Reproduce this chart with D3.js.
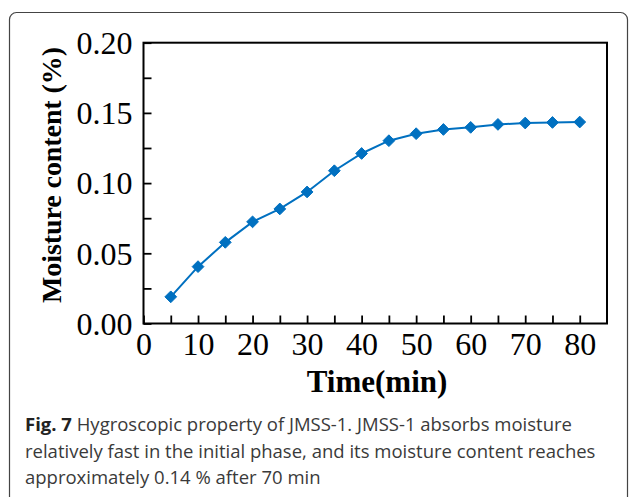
<!DOCTYPE html>
<html>
<head>
<meta charset="utf-8">
<script src="https://cdn.jsdelivr.net/npm/d3@7"></script>
<style>
  html, body { margin: 0; padding: 0; background: #fff; }
  svg { display: block; }
</style>
</head>
<body>
<svg id="chart" width="629" height="497"></svg>
<script>
// ---- data ----
const times = [5, 10, 15, 20, 25, 30, 35, 40, 45, 50, 55, 60, 65, 70, 75, 80];
const moisture = [0.019, 0.0405, 0.0578, 0.0724, 0.0816, 0.0937, 0.1088, 0.1211, 0.1302, 0.1352, 0.1382, 0.1397, 0.1418, 0.1428, 0.1432, 0.1435];
const xTickLabels = [0, 10, 20, 30, 40, 50, 60, 70, 80];
const yTickLabels = [0.00, 0.05, 0.10, 0.15, 0.20];
const xTitle = "Time(min)";
const yTitle = "Moisture content (%)";
const captionBold = "Fig. 7";
const captionLines = [
  " Hygroscopic property of JMSS-1. JMSS-1 absorbs moisture",
  "relatively fast in the initial phase, and its moisture content reaches",
  "approximately 0.14 % after 70 min"
];

(function () {
const svg = d3.select("#chart");

// outer rounded frame
svg.append("rect")
  .attr("x", 9.5).attr("y", 12.5)
  .attr("width", 618).attr("height", 520)
  .attr("rx", 7).attr("ry", 7)
  .attr("fill", "none").attr("stroke", "#444").attr("stroke-width", 1.2);

const pLeft = 143.5, pRight = 607, pTop = 42.7, pBottom = 323.5;
const x = d3.scaleLinear().domain([0, 85]).range([pLeft, pRight]);
const y = d3.scaleLinear().domain([0, 0.2]).range([pBottom, pTop]);

const serif = "'Liberation Serif', 'Times New Roman', serif";
const tickLen = 8;

// x ticks (inside, every 5)
const xAxis = d3.axisBottom(x).tickValues(d3.range(0, 85, 5)).tickSize(-tickLen).tickFormat("");
const gx = svg.append("g").attr("transform", `translate(0,${pBottom})`).call(xAxis);
gx.select(".domain").remove();
gx.selectAll(".tick line").attr("stroke", "#000").attr("stroke-width", 1.8);

// x tick labels
const xLab = d3.axisBottom(x).tickValues(xTickLabels).tickSize(0).tickPadding(0).tickFormat(d3.format("d"));
const gxl = svg.append("g").attr("transform", `translate(0,${pBottom})`).call(xLab);
gxl.select(".domain").remove();
gxl.selectAll(".tick text").attr("y", 31.5).attr("dy", 0)
  .attr("font-family", serif).attr("font-size", 32).attr("fill", "#000");

// y ticks (inside, every 0.025)
const yAxis = d3.axisLeft(y).tickValues(d3.range(0, 0.2001, 0.025)).tickSize(-tickLen).tickFormat("");
const gy = svg.append("g").attr("transform", `translate(${pLeft},0)`).call(yAxis);
gy.select(".domain").remove();
gy.selectAll(".tick line").attr("stroke", "#000").attr("stroke-width", 1.8);

const yLab = d3.axisLeft(y).tickValues(yTickLabels).tickSize(0).tickPadding(11).tickFormat(d3.format(".2f"));
const gyl = svg.append("g").attr("transform", `translate(${pLeft},0)`).call(yLab);
gyl.select(".domain").remove();
gyl.selectAll(".tick text").attr("dy", "0.34em")
  .attr("font-family", serif).attr("font-size", 32).attr("fill", "#000");

// plot box
svg.append("rect")
  .attr("x", pLeft).attr("y", pTop)
  .attr("width", pRight - pLeft).attr("height", pBottom - pTop)
  .attr("fill", "none").attr("stroke", "#000").attr("stroke-width", 2);

// line
const pts = times.map((t, i) => [t, moisture[i]]);
const color = "#0070C0";
svg.append("path")
  .datum(pts)
  .attr("d", d3.line().x(d => x(d[0])).y(d => y(d[1])))
  .attr("fill", "none").attr("stroke", color).attr("stroke-width", 2);

// diamond markers
svg.append("g").selectAll("path")
  .data(pts).join("path")
  .attr("transform", d => `translate(${x(d[0])},${y(d[1])})`)
  .attr("d", d3.symbol().type(d3.symbolDiamond2).size(88))
  .attr("fill", color).attr("stroke", color).attr("stroke-width", 1);

// axis titles
svg.append("text")
  .attr("x", 377).attr("y", 392)
  .attr("text-anchor", "middle")
  .attr("font-family", serif).attr("font-weight", "bold").attr("font-size", 31)
  .attr("fill", "#000")
  .text(xTitle);

svg.append("text")
  .attr("transform", "translate(61,175) rotate(-90)")
  .attr("text-anchor", "middle")
  .attr("font-family", serif).attr("font-weight", "bold").attr("font-size", 28)
  .attr("fill", "#000")
  .attr("textLength", 256).attr("lengthAdjust", "spacing")
  .text(yTitle);

// caption
const sans = "'Open Sans', 'Noto Sans', sans-serif";
const cap = svg.append("text")
  .attr("font-family", sans).attr("font-size", 18.5).attr("fill", "#3a3a3a");
const l1 = cap.append("tspan").attr("x", 25).attr("y", 431);
l1.append("tspan").attr("font-weight", "bold").attr("fill", "#222").text(captionBold);
l1.append("tspan").text(captionLines[0]);
cap.append("tspan").attr("x", 25).attr("y", 458).text(captionLines[1]);
cap.append("tspan").attr("x", 25).attr("y", 484).text(captionLines[2]);
})();
</script>
</body>
</html>
